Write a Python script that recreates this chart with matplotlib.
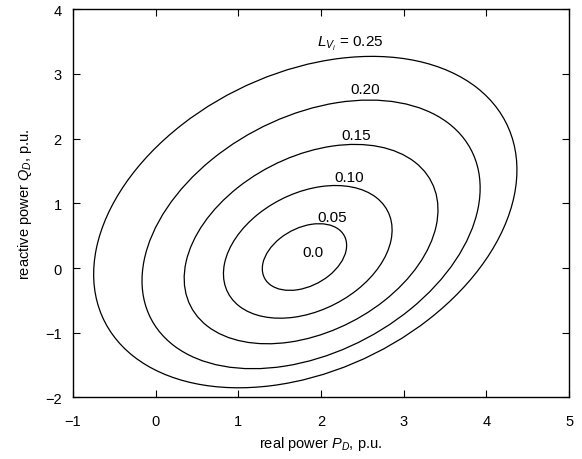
import numpy as np
import matplotlib
matplotlib.use("Agg")
import matplotlib.pyplot as plt
from matplotlib.patches import Ellipse

plt.rcParams['font.family'] = ['Liberation Sans', 'DejaVu Sans']
plt.rcParams['mathtext.fontset'] = 'custom'
plt.rcParams['mathtext.it'] = 'Liberation Sans:italic'
plt.rcParams['mathtext.rm'] = 'Liberation Sans'

# contour levels of L_Vi and the ellipse
levels = [0.05, 0.10, 0.15, 0.20, 0.25]
center_p = [1.80, 1.84, 1.88, 1.88, 1.81]
center_q = [0.17, 0.25, 0.37, 0.52, 0.71]
half_width = [0.51, 1.02, 1.535, 2.045, 2.56]   # half extent along P
half_height = [0.515, 1.025, 1.54, 2.075, 2.56]  # half extent along Q
tilt = [0.35, 0.33, 0.345, 0.345, 0.315]         # P-Q correlation of each contour

label_p = [2.14, 2.34, 2.43, 2.53, 2.35]
label_q = [0.79, 1.41, 2.05, 2.76, 3.47]
label_txt = ['0.05', '0.10', '0.15', '0.20', r'$L_{V_i}$ = 0.25']
center_label = ('0.0', 1.90, 0.25)

x_ticks = [-1, 0, 1, 2, 3, 4, 5]
y_ticks = [-2, -1, 0, 1, 2, 3, 4]

fig = plt.figure(figsize=(5.82, 4.60), dpi=100)
ax = fig.add_axes([0.1254, 0.1337, 0.8523, 0.8443])

for i in range(len(levels)):
    w, h, r = half_width[i], half_height[i], tilt[i]
    cov = np.array([[w * w, r * w * h], [r * w * h, h * h]])
    vals, vecs = np.linalg.eigh(cov)
    ang = np.degrees(np.arctan2(vecs[1, 1], vecs[0, 1]))
    ell = Ellipse((center_p[i], center_q[i]), 2 * np.sqrt(vals[1]), 2 * np.sqrt(vals[0]),
                  angle=ang, fill=False, edgecolor='black', linewidth=0.9)
    ax.add_patch(ell)
    ax.text(label_p[i], label_q[i], label_txt[i], ha='center', va='center', fontsize=11)

ax.text(center_label[1], center_label[2], center_label[0], ha='center', va='center', fontsize=11)

ax.set_xlim(-1, 5)
ax.set_ylim(-2, 4)
ax.set_xticks(x_ticks)
ax.set_yticks(y_ticks)
ax.set_xticklabels(['\u22121', '0', '1', '2', '3', '4', '5'])
ax.set_yticklabels(['\u22122', '\u22121', '0', '1', '2', '3', '4'])
ax.tick_params(direction='in', top=True, right=True, length=5, width=0.8,
               labelsize=10.5)
ax.tick_params(axis='x', pad=12)
ax.tick_params(axis='y', pad=8)
for s in ax.spines.values():
    s.set_linewidth(1.0)

ax.set_xlabel(r'real power $P_D$, p.u.', fontsize=10.5, labelpad=4)
ax.set_ylabel(r'reactive power $Q_D$, p.u.', fontsize=10.5, labelpad=8)

fig.savefig('out.png', dpi=100)
